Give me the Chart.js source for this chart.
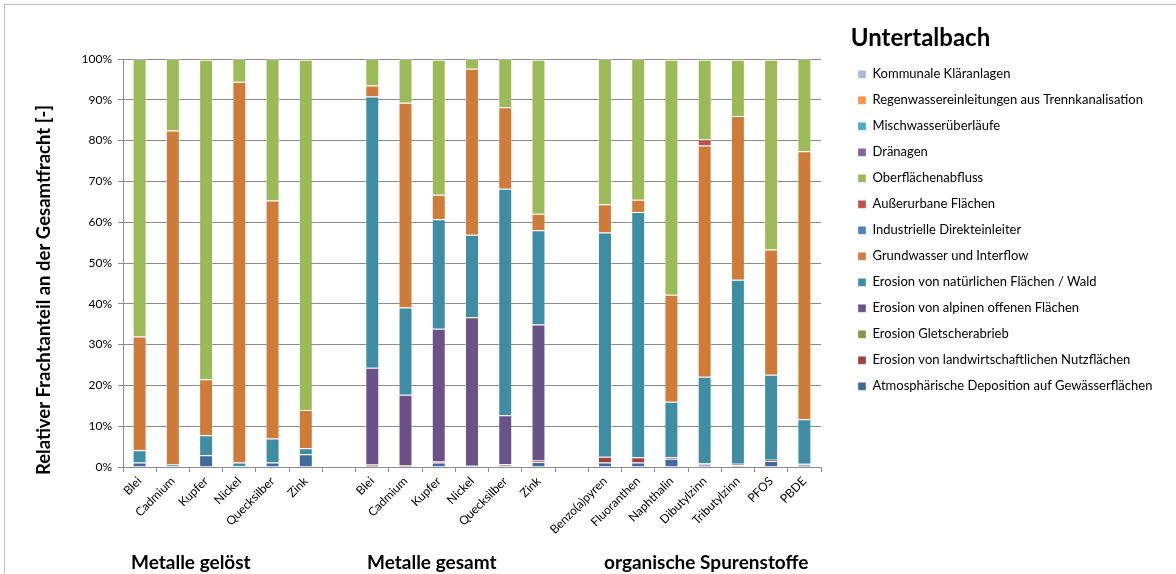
<!DOCTYPE html>
<html>
<head>
<meta charset="utf-8">
<script src="https://cdn.jsdelivr.net/npm/chart.js@4"></script>
<style>
  html, body { margin: 0; padding: 0; background: #fff; }
  #wrap { width: 1176px; height: 574px; }
</style>
</head>
<body>
<div id="wrap"><canvas id="frachten"></canvas></div>
<script>
// categories (blank entries = gaps between the groups)
const categories = [
  'Blei', 'Cadmium', 'Kupfer', 'Nickel', 'Quecksilber', 'Zink', '',
  'Blei', 'Cadmium', 'Kupfer', 'Nickel', 'Quecksilber', 'Zink', '',
  'Benzo(a)pyren', 'Fluoranthen', 'Naphthalin', 'Dibutylzinn', 'Tributylzinn', 'PFOS', 'PBDE'
]
const groups = ['Metalle gelöst', 'Metalle gesamt', 'organische Spurenstoffe']

// shares in %, bottom of the stack first
const atmosphaere  = [1.1, 0.2, 2.9, 0.2, 1.1, 3.1, null, 0, 0.1, 1.1, 0, 0.3, 1.2, null, 1.1, 1.1, 2.0, 0.6, 0.4, 1.5, 0.6]
const landwirt     = [0, 0, 0, 0, 0, 0, null, 0.6, 0.4, 0.4, 0.3, 0.4, 0.4, null, 1.4, 1.3, 0.4, 0.3, 0.4, 0.3, 0.2]
const gletscher    = [0, 0, 0, 0, 0, 0, null, 0, 0, 0, 0, 0, 0, null, 0, 0, 0, 0, 0, 0, 0]
const alpin        = [0, 0, 0, 0, 0, 0, null, 23.7, 17.2, 32.4, 36.4, 12.0, 33.3, null, 0, 0, 0, 0, 0, 0, 0]
const wald         = [3.0, 0.4, 4.9, 0.9, 5.9, 1.5, null, 66.5, 21.4, 26.8, 20.2, 55.5, 23.1, null, 55.0, 60.1, 13.6, 21.2, 45.1, 20.8, 10.9]
const grundwasser  = [27.9, 81.9, 13.7, 93.3, 58.3, 9.4, null, 2.7, 50.2, 6.0, 40.7, 20.0, 4.1, null, 6.9, 3.0, 26.2, 56.7, 40.1, 30.7, 65.7]
const industrie    = [0, 0, 0, 0, 0, 0, null, 0, 0, 0, 0, 0, 0, null, 0, 0, 0, 0, 0, 0, 0]
const ausserurban  = [0, 0, 0, 0, 0, 0, null, 0, 0, 0, 0, 0, 0, null, 0, 0, 0, 1.5, 0, 0, 0]
const oberflaeche  = [68.0, 17.5, 78.3, 5.6, 34.7, 85.8, null, 6.5, 10.7, 33.1, 2.4, 11.8, 37.7, null, 35.6, 34.5, 57.6, 19.5, 13.8, 46.5, 22.6]
const draenagen    = [0, 0, 0, 0, 0, 0, null, 0, 0, 0, 0, 0, 0, null, 0, 0, 0, 0, 0, 0, 0]
const mischwasser  = [0, 0, 0, 0, 0, 0, null, 0, 0, 0, 0, 0, 0, null, 0, 0, 0, 0, 0, 0, 0]
const regenwasser  = [0, 0, 0.2, 0, 0, 0.2, null, 0, 0, 0.2, 0, 0, 0.2, null, 0, 0, 0.2, 0.2, 0.2, 0, 0]
const klaeranlagen = [0, 0, 0, 0, 0, 0, null, 0, 0, 0, 0, 0, 0, null, 0, 0, 0, 0, 0, 0.2, 0]

const yTicks = [0, 10, 20, 30, 40, 50, 60, 70, 80, 90, 100]

const series = [
  ['Atmosphärische Deposition auf Gewässerflächen', atmosphaere, '#40699E'],
  ['Erosion von landwirtschaftlichen Nutzflächen', landwirt, '#A0413E'],
  ['Erosion Gletscherabrieb', gletscher, '#7E9A48'],
  ['Erosion von alpinen offenen Flächen', alpin, '#6A5289'],
  ['Erosion von natürlichen Flächen / Wald', wald, '#3E8DA4'],
  ['Grundwasser und Interflow', grundwasser, '#CF7C3A'],
  ['Industrielle Direkteinleiter', industrie, '#4F81BD'],
  ['Außerurbane Flächen', ausserurban, '#C0504D'],
  ['Oberflächenabfluss', oberflaeche, '#9BBB59'],
  ['Dränagen', draenagen, '#8064A2'],
  ['Mischwasserüberläufe', mischwasser, '#4BACC6'],
  ['Regenwassereinleitungen aus Trennkanalisation', regenwasser, '#F79646'],
  ['Kommunale Kläranlagen', klaeranlagen, '#A7B9D8']
]

Chart.defaults.font.family = 'Lato'
Chart.defaults.color = '#000'

const grey = '#8c8c8c'

const extras = {
  id: 'extras',
  afterInit(chart) {
    // legend on the right gets the width it needs
    const legend = chart.legend
    const fit = legend.fit
    legend.fit = function () {
      fit.call(this)
      this.width = 331
    }
  },
  beforeDraw(chart) {
    const ctx = chart.ctx
    ctx.save()
    ctx.fillStyle = '#fff'
    ctx.fillRect(0, 0, chart.width, chart.height)
    ctx.restore()
  },
  afterDraw(chart) {
    const ctx = chart.ctx
    ctx.save()
    ctx.strokeStyle = '#bfbfbf'
    ctx.lineWidth = 1
    ctx.strokeRect(4.5, 4.5, chart.width + 10, chart.height + 10)
    ctx.font = 'bold 19px Lato'
    ctx.fillStyle = '#000'
    ctx.textBaseline = 'middle'
    const xs = [131, 367, 604]
    groups.forEach((g, i) => ctx.fillText(g, xs[i], 563))
    ctx.restore()
  }
}

new Chart(document.getElementById('frachten'), {
  type: 'bar',
  data: {
    labels: categories,
    datasets: series.map(([label, values, color]) => ({
      label: label,
      data: values.map(v => (v ? v : null)),
      backgroundColor: color,
      borderColor: 'rgba(255,255,255,0.35)',
      borderWidth: 1,
      categoryPercentage: 1,
      barPercentage: 0.42
    }))
  },
  options: {
    responsive: true,
    maintainAspectRatio: false,
    animation: false,
    layout: { padding: { left: 0, top: 22, right: 0, bottom: 0 } },
    plugins: {
      title: { display: true, text: '', font: { size: 10, lineHeight: 1 }, padding: { top: 0, bottom: 27 } },
      tooltip: { enabled: false },
      legend: {
        position: 'right',
        align: 'start',
        reverse: true,
        title: {
          display: true,
          position: 'start',
          text: '\u00a0Untertalbach',
          font: { size: 24, weight: 'bold' },
          padding: { top: 4, bottom: 0 }
        },
        labels: { boxWidth: 8, boxHeight: 8, padding: 13, font: { size: 13 } }
      }
    },
    scales: {
      x: {
        stacked: true,
        grid: { display: true, drawOnChartArea: false, offset: true, tickLength: 5, color: grey },
        border: { color: grey },
        ticks: { minRotation: 45, maxRotation: 45, autoSkip: false, font: { size: 12 }, padding: 2 },
        afterFit: s => { s.height = 107 }
      },
      y: {
        stacked: true,
        min: 0,
        max: 100,
        afterBuildTicks: s => { s.ticks = yTicks.map(v => ({ value: v })) },
        ticks: { callback: v => v + '%', font: { size: 12 }, padding: 6 },
        grid: { color: grey, tickLength: 5 },
        border: { color: grey },
        title: {
          display: true,
          // trailing blanks push the visible text a bit further down
          text: 'Relativer Frachtanteil an der Gesamtfracht [-]' + '\u00a0'.repeat(12),
          font: { size: 18.5, weight: 'bold' },
          padding: { top: 33, bottom: 0 }
        },
        afterFit: s => { s.width = 123 }
      },
      yR: {
        position: 'right',
        display: true,
        ticks: { display: false },
        grid: { display: false },
        border: { display: false },
        afterFit: s => { s.width = 24 }
      }
    }
  },
  plugins: [extras]
})
</script>
</body>
</html>
